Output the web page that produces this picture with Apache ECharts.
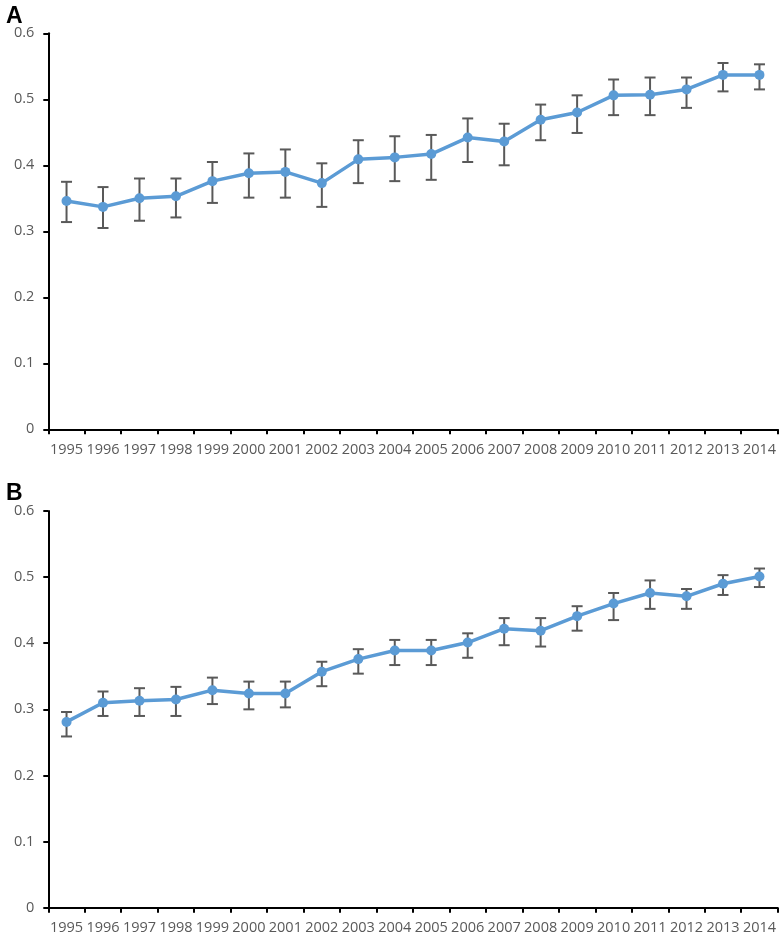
<!DOCTYPE html>
<html>
<head>
<meta charset="utf-8">
<script src="https://cdn.jsdelivr.net/npm/echarts@6/dist/echarts.min.js"></script>
<style>
html,body{margin:0;padding:0;background:#fff;}
#chart{width:780px;height:936px;}
</style>
</head>
<body>
<div id="chart"></div>
<script>
var years = ['1995','1996','1997','1998','1999','2000','2001','2002','2003','2004','2005','2006','2007','2008','2009','2010','2011','2012','2013','2014'];
var yTicks = [0, 0.1, 0.2, 0.3, 0.4, 0.5, 0.6];

var meanA = [0.346,0.337,0.350,0.353,0.376,0.388,0.390,0.373,0.409,0.412,0.417,0.442,0.436,0.469,0.480,0.506,0.507,0.515,0.537,0.537];
var lowA  = [0.314,0.305,0.316,0.321,0.343,0.351,0.351,0.337,0.373,0.376,0.378,0.405,0.400,0.438,0.449,0.476,0.476,0.487,0.512,0.515];
var highA = [0.375,0.367,0.380,0.380,0.405,0.418,0.424,0.403,0.438,0.444,0.446,0.471,0.463,0.492,0.506,0.530,0.533,0.533,0.555,0.553];

var meanB = [0.281,0.310,0.313,0.315,0.329,0.324,0.324,0.357,0.376,0.389,0.389,0.401,0.422,0.419,0.441,0.460,0.476,0.471,0.490,0.501];
var lowB  = [0.259,0.290,0.290,0.290,0.308,0.300,0.303,0.335,0.354,0.367,0.367,0.378,0.397,0.395,0.419,0.435,0.452,0.452,0.473,0.485];
var highB = [0.296,0.327,0.332,0.334,0.348,0.342,0.342,0.372,0.391,0.405,0.405,0.415,0.438,0.438,0.456,0.476,0.495,0.482,0.503,0.513];

var panelLabels = ['A', 'B'];

var lineColor = '#5B9BD5';
var errColor = '#595959';
var textColor = '#595959';

function errData(low, high) {
  return years.map(function (y, i) { return [i, low[i], high[i]]; });
}

function renderErr(params, api) {
  var x = api.value(0);
  var lo = api.coord([x, api.value(1)]);
  var hi = api.coord([x, api.value(2)]);
  var hw = 5.5;
  var st = { stroke: errColor, lineWidth: 2 };
  return {
    type: 'group',
    children: [
      { type: 'line', shape: { x1: lo[0], y1: lo[1], x2: hi[0], y2: hi[1] }, style: st },
      { type: 'line', shape: { x1: hi[0] - hw, y1: hi[1], x2: hi[0] + hw, y2: hi[1] }, style: st },
      { type: 'line', shape: { x1: lo[0] - hw, y1: lo[1], x2: lo[0] + hw, y2: lo[1] }, style: st }
    ]
  };
}

function xAxisCfg(gi) {
  return {
    type: 'category', gridIndex: gi, data: years, boundaryGap: true,
    axisLine: { lineStyle: { color: '#000', width: 2 } },
    axisTick: { show: true, length: 5, inside: false, alignWithLabel: false, interval: 0, lineStyle: { color: '#000', width: 2 } },
    axisLabel: { interval: 0, hideOverlap: false, color: textColor, fontSize: 14.5, fontFamily: 'Open Sans', margin: 13 },
    splitLine: { show: false }
  };
}
function yAxisCfg(gi) {
  return {
    type: 'value', gridIndex: gi, min: yTicks[0], max: yTicks[yTicks.length - 1], interval: 0.1,
    axisLine: { show: true, lineStyle: { color: '#000', width: 2 } },
    axisTick: { show: true, length: 5, lineStyle: { color: '#000', width: 2 } },
    axisLabel: { color: textColor, fontSize: 14.5, fontFamily: 'Open Sans', margin: 14,
      formatter: function (v) { return String(Math.round(v * 10) / 10); } },
    splitLine: { show: false }
  };
}

var chart = echarts.init(document.getElementById('chart'), null, { renderer: 'canvas' });
chart.setOption({
  animation: false,
  backgroundColor: '#fff',
  title: [
    { text: panelLabels[0], left: 1, top: 0, textStyle: { fontSize: 23, fontWeight: 'bold', color: '#000', fontFamily: 'Liberation Sans' } },
    { text: panelLabels[1], left: 1, top: 477, textStyle: { fontSize: 23, fontWeight: 'bold', color: '#000', fontFamily: 'Liberation Sans' } }
  ],
  grid: [
    { left: 48.3, right: 2.3, top: 33.3, height: 396 },
    { left: 48.3, right: 2.3, top: 511, height: 396.7 }
  ],
  xAxis: [xAxisCfg(0), xAxisCfg(1)],
  yAxis: [yAxisCfg(0), yAxisCfg(1)],
  series: [
    { type: 'custom', xAxisIndex: 0, yAxisIndex: 0, data: errData(lowA, highA), renderItem: renderErr, z: 1, silent: true },
    { type: 'line', xAxisIndex: 0, yAxisIndex: 0, data: meanA, symbol: 'circle', symbolSize: 10,
      lineStyle: { color: lineColor, width: 3.5 }, itemStyle: { color: lineColor }, z: 3 },
    { type: 'custom', xAxisIndex: 1, yAxisIndex: 1, data: errData(lowB, highB), renderItem: renderErr, z: 1, silent: true },
    { type: 'line', xAxisIndex: 1, yAxisIndex: 1, data: meanB, symbol: 'circle', symbolSize: 10,
      lineStyle: { color: lineColor, width: 3.5 }, itemStyle: { color: lineColor }, z: 3 }
  ]
});
</script>
</body>
</html>
